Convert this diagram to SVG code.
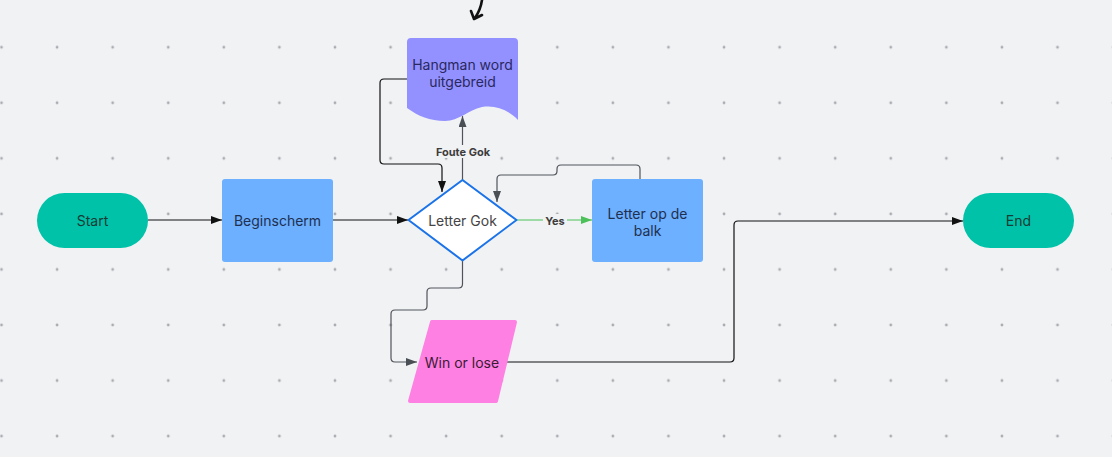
<svg xmlns="http://www.w3.org/2000/svg" width="1112" height="457" viewBox="0 0 1112 457">
<defs>
<pattern id="dots" patternUnits="userSpaceOnUse" x="-26.3" y="19.5" width="55.58" height="55.55">
<circle cx="27.8" cy="27.8" r="1.4" fill="#a9abb0"/>
</pattern>
<marker id="ab" markerUnits="userSpaceOnUse" markerWidth="12" markerHeight="10" refX="11" refY="4" orient="auto"><path d="M0,0 L11,4 L0,8 Z" fill="#111"/></marker>
<marker id="ag" markerUnits="userSpaceOnUse" markerWidth="12" markerHeight="10" refX="11" refY="4" orient="auto"><path d="M0,0 L11,4 L0,8 Z" fill="#4a4e55"/></marker>
<marker id="agr" markerUnits="userSpaceOnUse" markerWidth="12" markerHeight="10" refX="11" refY="4" orient="auto"><path d="M0,0 L11,4 L0,8 Z" fill="#4cc159"/></marker>
</defs>
<style>
.t{font-family:Inter,"Liberation Sans",sans-serif;font-size:14px;text-anchor:middle;dominant-baseline:central}
.lbl{font-family:Inter,"Liberation Sans",sans-serif;font-size:11px;font-weight:700;fill:#3d3d3d;text-anchor:middle;dominant-baseline:central}
.c{fill:none;stroke-width:1.2}
.blk{stroke:#111}
.gry{stroke:#50545a}
</style>
<rect width="1112" height="457" fill="#f1f2f4"/>
<rect width="1112" height="457" fill="url(#dots)"/>

<path d="M482,0 C481,7 479,12 475,18 M471,11 L474,19 L482,15" fill="none" stroke="#111" stroke-width="2.6" stroke-linecap="round" stroke-linejoin="round"/>

<g id="connectors">
<path class="c blk" d="M148,220 L222,220" marker-end="url(#ab)"/>
<path class="c blk" d="M333,220 L408,220" marker-end="url(#ab)"/>
<path class="c" stroke="#4cc159" d="M517,220 L592,220" marker-end="url(#agr)"/>
<path class="c gry" d="M462.5,180 L462.5,116" marker-end="url(#ag)"/>
<path class="c blk" d="M407,79 L384,79 Q380,79 380,83 L380,160 Q380,164 384,164 L438,164 Q442,164 442,168 L442,192" marker-end="url(#ab)"/>
<path class="c gry" d="M640,185 L640,169 Q640,165 636,165 L561,165 Q557,165 557,169 L557,171 Q557,175 553,175 L501,175 Q497,175 497,179 L497,202" marker-end="url(#ag)"/>
<path class="c gry" d="M462.5,261 L462.5,284 Q462.5,288 458.5,288 L431,288 Q427,288 427,292 L427,306 Q427,310 423,310 L395,310 Q391,310 391,314 L391,358 Q391,362 395,362 L417,362" marker-end="url(#ag)"/>
<path class="c blk" d="M506,362 L730,362 Q734,362 734,358 L734,225 Q734,221 738,221 L963,221" marker-end="url(#ab)"/>
<rect x="433" y="145" width="60" height="13" fill="#f1f2f4"/>
<text class="lbl" x="463" y="152">Foute Gok</text>
<rect x="543" y="214" width="24" height="12" fill="#f1f2f4"/>
<text class="lbl" x="555" y="220.5">Yes</text>
</g>

<g id="start">
<rect x="37" y="193" width="111" height="55" rx="27.5" fill="#00c2a8"/>
<text class="t" x="92.5" y="220.5" fill="#173b35">Start</text>
</g>
<g id="beginscherm">
<rect x="222" y="179" width="111" height="83" rx="3" fill="#6cb0ff"/>
<text class="t" x="277.5" y="220.5" fill="#1f2f4f">Beginscherm</text>
</g>
<g id="hangman">
<path d="M411,38 L514,38 Q518,38 518,42 L518,120 C507,109 495,105 482,107 C468,110 459,121 445,121 C430,121 418,116 407,108 L407,42 Q407,38 411,38 Z" fill="#9391ff"/>
<text class="t" x="462.5" y="64" fill="#2a2860">Hangman word</text>
<text class="t" x="462.5" y="81" fill="#2a2860">uitgebreid</text>
</g>
<g id="letter-gok">
<path d="M462.5,180 L516.5,220 L462.5,260.5 L408.5,220 Z" fill="#ffffff" stroke="#1a73e8" stroke-width="2" stroke-linejoin="round"/>
<text class="t" x="462.5" y="220.5" fill="#444">Letter Gok</text>
</g>
<g id="letter-op-de-balk">
<rect x="592" y="179" width="111" height="83" rx="3" fill="#6cb0ff"/>
<text class="t" x="647.5" y="213" fill="#1f2f4f">Letter op de</text>
<text class="t" x="647.5" y="230" fill="#1f2f4f">balk</text>
</g>
<g id="win-or-lose">
<path d="M432,322 L515,322 L496,401 L410,401 Z" fill="#ff80e3" stroke="#ff80e3" stroke-width="4" stroke-linejoin="round"/>
<text class="t" x="462" y="362" fill="#3a1b35">Win or lose</text>
</g>
<g id="end">
<rect x="963" y="193" width="111" height="55" rx="27.5" fill="#00c2a8"/>
<text class="t" x="1018.5" y="220.5" fill="#173b35">End</text>
</g>
</svg>
